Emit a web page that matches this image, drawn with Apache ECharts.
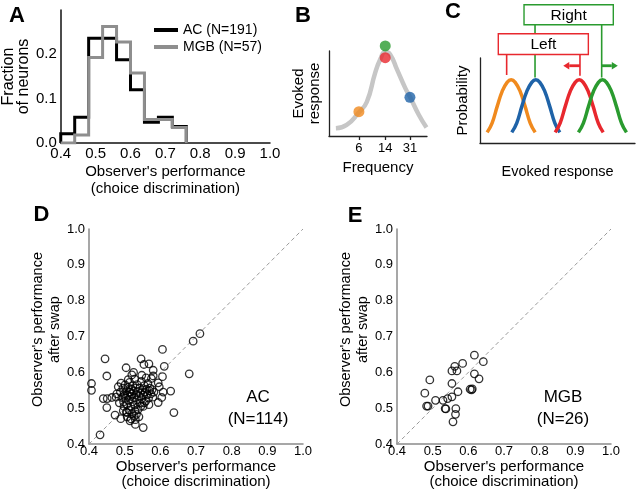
<!DOCTYPE html>
<html>
<head>
<meta charset="utf-8">
<script src="https://cdn.jsdelivr.net/npm/echarts@6/dist/echarts.min.js"></script>
<style>
html,body{margin:0;padding:0;background:#fff;}
#chart{width:640px;height:491px;}
</style>
</head>
<body>
<div id="chart"></div>
<script>
// ---------- Panel A: histogram of observer's performance ----------
const histEdges = [0.40, 0.44, 0.48, 0.52, 0.56, 0.60, 0.64, 0.68, 0.72, 0.76];
const acFraction = [0.021, 0.058, 0.236, 0.236, 0.188, 0.120, 0.047, 0.058, 0.037];
const mgbFraction = [0.000, 0.018, 0.193, 0.263, 0.228, 0.158, 0.053, 0.053, 0.035];
const histSeriesNames = ['AC (N=191)', 'MGB (N=57)'];
const perfTicks = [0.4, 0.5, 0.6, 0.7, 0.8, 0.9, 1.0];

// ---------- Panel B: tuning curve ----------
const tuningFreq = [2.86, 4.05, 5.89, 7.73, 10.1, 11.9, 14.0, 16.4, 20.5, 26.8, 31.5, 41.2, 52.8];
const tuningResp = [0.09, 0.13, 0.27, 0.40, 0.74, 0.90, 0.99, 0.96, 0.78, 0.56, 0.45, 0.25, 0.10];
const stimFreq = [6, 14, 14, 31];
const stimResp = [0.286, 0.921, 1.059, 0.455];
const freqTicks = [6, 14, 31];

// ---------- Panel C: response distributions ----------
const cCenters = [20.1, 36.0, 64.0, 79.0];          // orange, blue, red, green
const cProfileOffset = [-15.5, -12.3, -9.0, -5.8, -2.6, 0, 2.6, 5.8, 9.0, 12.3, 15.5];
const cProfileHeight = [0.125, 0.235, 0.431, 0.608, 0.714, 0.745, 0.714, 0.608, 0.431, 0.235, 0.125];
const cBoxLabels = ['Right', 'Left'];
const cBoxes = [[28.4, 1.391, 86.0, 1.627], [11.8, 1.042, 69.9, 1.285]];
const cGreenLinks = [[35.5, 1.391, 0.77], [78.5, 1.391, 0.77]];
const cRedLinks = [[17.2, 1.042, 0.80], [64.5, 1.042, 0.79]];
const cRedArrow = [[64.5, 53.7, 0.909]];
const cGreenArrow = [[78.5, 88.9, 0.909]];

// ---------- Panel D: AC, performance vs performance after swap ----------
const acSwap = [
  [0.711,0.708],[0.692,0.687],[0.681,0.596],[0.606,0.664],[0.546,0.638],[0.445,0.638],[0.554,0.622],[0.568,0.624],[0.504,0.613],[0.580,0.606],
  [0.611,0.617],[0.450,0.590],[0.606,0.588],[0.580,0.590],[0.407,0.569],[0.407,0.550],[0.629,0.548],[0.608,0.545],[0.594,0.516],[0.604,0.530],
  [0.638,0.488],[0.552,0.446],[0.431,0.426],[0.440,0.527],[0.451,0.527],[0.464,0.530],[0.476,0.531],[0.450,0.502],[0.473,0.481],[0.489,0.471],
  [0.515,0.465],[0.530,0.468],[0.506,0.488],[0.529,0.493],[0.594,0.571],[0.597,0.560],
  [0.488,0.545],[0.492,0.530],[0.495,0.556],[0.497,0.518],[0.499,0.541],[0.501,0.565],[0.503,0.528],[0.505,0.549],[0.506,0.511],[0.508,0.536],
  [0.510,0.558],[0.511,0.522],[0.513,0.545],[0.514,0.572],[0.516,0.533],[0.517,0.505],[0.519,0.553],[0.520,0.540],[0.522,0.518],[0.523,0.563],
  [0.525,0.548],[0.526,0.530],[0.528,0.581],[0.529,0.509],[0.531,0.556],[0.532,0.538],[0.534,0.523],[0.535,0.566],[0.537,0.547],[0.538,0.497],
  [0.540,0.533],[0.542,0.556],[0.543,0.514],[0.545,0.542],[0.547,0.575],[0.548,0.527],[0.550,0.551],[0.552,0.505],[0.553,0.537],[0.555,0.563],
  [0.557,0.545],[0.559,0.520],[0.561,0.553],[0.563,0.538],[0.565,0.569],[0.567,0.528],[0.569,0.549],[0.571,0.556],[0.573,0.540],[0.575,0.583],
  [0.577,0.552],[0.579,0.531],[0.560,0.585],[0.548,0.592],[0.520,0.593],[0.510,0.580],[0.498,0.505],[0.505,0.490],[0.512,0.495],[0.520,0.485],
  [0.527,0.478],[0.533,0.483],[0.540,0.476],[0.518,0.470],[0.507,0.476],[0.496,0.493],[0.485,0.515],[0.482,0.560],[0.478,0.540],[0.490,0.570],
  [0.525,0.600],[0.545,0.505],[0.555,0.515],[0.568,0.510],[0.582,0.545],[0.530,0.455],[0.515,0.545],[0.500,0.535]
];

// ---------- Panel E: MGB ----------
const mgbSwap = [
  [0.617,0.648],[0.642,0.630],[0.584,0.625],[0.562,0.617],[0.554,0.604],[0.568,0.604],[0.617,0.596],[0.630,0.582],[0.492,0.579],[0.554,0.569],
  [0.571,0.546],[0.478,0.542],[0.554,0.532],[0.542,0.527],[0.529,0.522],[0.508,0.522],[0.605,0.553],[0.609,0.551],[0.611,0.554],[0.483,0.506],
  [0.487,0.506],[0.535,0.499],[0.537,0.498],[0.565,0.499],[0.564,0.483],[0.557,0.462]
];
const diagonal = [[0.4, 0.4], [1.0, 1.0]];

// ---------- styling ----------
const FONT = "'Liberation Sans', Arial, Helvetica, sans-serif";
const COL = {orange:'#f08a1e', blue:'#1f63a8', red:'#e8282e', green:'#2a9b2f', grey:'#8e8e8e', light:'#c6c6c6'};
const stimColors = [COL.orange, COL.red, COL.green, COL.blue];
const curveColors = [COL.orange, COL.blue, COL.red, COL.green];

function stepPoints(edges, vals) {
  const pts = [[edges[0], 0]];
  vals.forEach((v, i) => { pts.push([edges[i], v]); pts.push([edges[i + 1], v]); });
  pts.push([edges[edges.length - 1], 0]);
  return pts;
}
const log10 = Math.log10;

const chart = echarts.init(document.getElementById('chart'), null, {renderer: 'canvas'});

const txt = (size, extra) => Object.assign({color:'#000', fontFamily: FONT, fontSize: size}, extra || {});

function perfAxis(gridIndex, isX, opts) {
  return Object.assign({
    gridIndex, type:'value', min:0.4, max:1.0, interval:0.1,
    axisLine:{show:true, onZero:false, lineStyle:{color:'#8a8a8a', width:1.5}},
    axisTick:{show:false}, splitLine:{show:false},
    axisLabel: Object.assign(txt(13), {margin: isX ? 1 : 4, formatter: v => v.toFixed(1)}),
    nameLocation:'middle',
  }, opts);
}

const option = {
  animation:false,
  backgroundColor:'#fff',
  textStyle:{fontFamily: FONT},
  grid:[
    {left:57, top:10, width:213, height:133},
    {left:329, top:51, width:98, height:85},
    {left:480, top:58, width:155, height:85},
    {left:89, top:229, width:214, height:216},
    {left:397, top:229, width:214, height:216}
  ],
  legend:{
    data: histSeriesNames, left:149, top:18, orient:'vertical', icon:'rect',
    itemWidth:24, itemHeight:4, itemGap:3, selectedMode:false,
    textStyle: txt(14, {lineHeight:14})
  },
  xAxis:[
    {gridIndex:0, type:'value', min:0.4, max:1.0, interval:0.1,
     axisLine:{onZero:false, lineStyle:{color:'#111', width:1.5}}, axisTick:{show:false}, splitLine:{show:false},
     axisLabel: Object.assign(txt(15), {margin:3, formatter: v => v.toFixed(1)}),
     name:"Observer's performance\n(choice discrimination)", nameLocation:'middle', nameGap:20,
     nameTextStyle: txt(15, {lineHeight:17})},
    {gridIndex:1, type:'value', min:0.36, max:1.73,
     axisLine:{onZero:false, lineStyle:{color:'#222', width:1.3}},
     axisTick:{show:true, length:4, customValues: freqTicks.map(log10), lineStyle:{color:'#222', width:1.3}},
     splitLine:{show:false},
     axisLabel: Object.assign(txt(13), {margin:6, customValues: freqTicks.map(log10), formatter: v => String(Math.round(Math.pow(10, v)))}),
     name:'Frequency', nameLocation:'middle', nameGap:24, nameTextStyle: txt(15)},
    {gridIndex:2, type:'value', min:0, max:100,
     axisLine:{onZero:false, lineStyle:{color:'#222', width:1.3}}, axisTick:{show:false}, axisLabel:{show:false}, splitLine:{show:false},
     name:'Evoked response', nameLocation:'middle', nameGap:21, nameTextStyle: txt(14.5)},
    perfAxis(3, true, {name:"Observer's performance\n(choice discrimination)", nameGap:12, nameTextStyle: txt(15, {lineHeight:15.5})}),
    perfAxis(4, true, {name:"Observer's performance\n(choice discrimination)", nameGap:12, nameTextStyle: txt(15, {lineHeight:15.5})})
  ],
  yAxis:[
    {gridIndex:0, type:'value', min:0, max:0.3, interval:0.1,
     axisLine:{show:true, onZero:false, lineStyle:{color:'#111', width:1.5}}, axisTick:{show:false}, splitLine:{show:false},
     axisLabel: Object.assign(txt(15), {margin:4, formatter: v => (v > 0.25 ? '' : v.toFixed(1))}),
     name:'Fraction\nof neurons', nameLocation:'middle', nameGap:29, nameTextStyle: txt(16, {lineHeight:15})},
    {gridIndex:1, type:'value', min:0, max:1,
     axisLine:{show:true, onZero:false, lineStyle:{color:'#222', width:1.3}}, axisTick:{show:false}, axisLabel:{show:false}, splitLine:{show:false},
     name:'Evoked\nresponse', nameLocation:'middle', nameGap:6, nameTextStyle: txt(15, {lineHeight:16})},
    {gridIndex:2, type:'value', min:0, max:1,
     axisLine:{show:true, onZero:false, lineStyle:{color:'#222', width:1.3}}, axisTick:{show:false}, axisLabel:{show:false}, splitLine:{show:false},
     name:'Probability', nameLocation:'middle', nameGap:10, nameTextStyle: txt(15)},
    perfAxis(3, false, {name:"Observer's performance\nafter swap", nameGap:23, nameTextStyle: txt(14.5, {lineHeight:16.5, padding:[0,0,0,14]})}),
    perfAxis(4, false, {name:"Observer's performance\nafter swap", nameGap:24, nameTextStyle: txt(14.5, {lineHeight:16.5, padding:[0,0,0,14]})})
  ],
  series:[
    // A
    {name: histSeriesNames[0], type:'line', xAxisIndex:0, yAxisIndex:0, data: stepPoints(histEdges, acFraction),
     symbol:'none', itemStyle:{color:'#000'}, lineStyle:{color:'#000', width:3, join:'miter', cap:'butt'}, z:3},
    {name: histSeriesNames[1], type:'line', xAxisIndex:0, yAxisIndex:0, data: stepPoints(histEdges, mgbFraction),
     symbol:'none', itemStyle:{color:COL.grey}, lineStyle:{color:COL.grey, width:3, join:'miter', cap:'butt'}, z:4},
    // B
    {type:'line', xAxisIndex:1, yAxisIndex:1, smooth:0.5, symbol:'none', clip:false,
     data: tuningFreq.map((f, i) => [log10(f), tuningResp[i]]),
     lineStyle:{color:COL.light, width:4.5}, z:2},
    {type:'scatter', xAxisIndex:1, yAxisIndex:1, clip:false, symbolSize:11,
     data: stimFreq.map((f, i) => ({value:[log10(f), stimResp[i]], itemStyle:{color: stimColors[i]}})), z:5},
    // C curves
    ...cCenters.map((c, k) => ({
      type:'line', xAxisIndex:2, yAxisIndex:2, smooth:0.45, symbol:'none', clip:false,
      data: cProfileOffset.map((o, j) => [c + o, cProfileHeight[j]]),
      lineStyle:{color: curveColors[k], width:3.5}, z:3 + k * 0.01
    })),
    // C green links (under boxes)
    {type:'custom', xAxisIndex:2, yAxisIndex:2, clip:false, z:4, data: cGreenLinks,
     renderItem:(p, api) => { const a = api.coord([api.value(0), api.value(1)]); const b = api.coord([api.value(0), api.value(2)]);
       return {type:'line', shape:{x1:a[0], y1:a[1], x2:b[0], y2:b[1]}, style:{stroke:COL.green, lineWidth:1.6}}; }},
    // C boxes
    {type:'custom', xAxisIndex:2, yAxisIndex:2, clip:false, z:5, data: cBoxes,
     renderItem:(p, api) => {
       const a = api.coord([api.value(0), api.value(3)]); const b = api.coord([api.value(2), api.value(1)]);
       const color = p.dataIndex === 0 ? COL.green : COL.red;
       return {type:'group', children:[
         {type:'rect', shape:{x:a[0], y:a[1], width:b[0]-a[0], height:b[1]-a[1]}, style:{fill:'#fff', stroke:color, lineWidth:1.4}},
         {type:'text', style:{text: cBoxLabels[p.dataIndex], x:(a[0]+b[0])/2, y:(a[1]+b[1])/2 + 1, align:'center', verticalAlign:'middle',
           fill:'#000', font:'15.5px ' + FONT}}
       ]}; }},
    // C red links
    {type:'custom', xAxisIndex:2, yAxisIndex:2, clip:false, z:6, data: cRedLinks,
     renderItem:(p, api) => { const a = api.coord([api.value(0), api.value(1)]); const b = api.coord([api.value(0), api.value(2)]);
       return {type:'line', shape:{x1:a[0], y1:a[1], x2:b[0], y2:b[1]}, style:{stroke:COL.red, lineWidth:1.6}}; }},
    // C arrows
    ...[[cRedArrow, COL.red], [cGreenArrow, COL.green]].map(([arr, color]) => ({
      type:'custom', xAxisIndex:2, yAxisIndex:2, clip:false, z:6, data: arr,
      renderItem:(p, api) => {
        const s = api.coord([api.value(0), api.value(2)]); const t = api.coord([api.value(1), api.value(2)]);
        const dir = Math.sign(t[0] - s[0]); const hl = 6, hh = 3.8;
        return {type:'group', children:[
          {type:'line', shape:{x1:s[0], y1:s[1], x2:t[0] - dir*hl, y2:t[1]}, style:{stroke:color, lineWidth:2.8}},
          {type:'polygon', shape:{points:[[t[0], t[1]], [t[0]-dir*hl, t[1]-hh], [t[0]-dir*hl, t[1]+hh]]}, style:{fill:color}}
        ]}; }
    })),
    // D
    {type:'line', xAxisIndex:3, yAxisIndex:3, data: diagonal, symbol:'none', lineStyle:{color:'#9a9a9a', width:1, type:[4,3]}, z:1},
    {type:'scatter', xAxisIndex:3, yAxisIndex:3, data: acSwap, symbol:'circle', symbolSize:7.5,
     itemStyle:{color:'rgba(0,0,0,0)', borderColor:'#000', borderWidth:1.3}, z:3},
    // E
    {type:'line', xAxisIndex:4, yAxisIndex:4, data: diagonal, symbol:'none', lineStyle:{color:'#9a9a9a', width:1, type:[4,3]}, z:1},
    {type:'scatter', xAxisIndex:4, yAxisIndex:4, data: mgbSwap, symbol:'circle', symbolSize:7.5,
     itemStyle:{color:'rgba(0,0,0,0)', borderColor:'#000', borderWidth:1.3}, z:3}
  ],
  graphic:[
    ...[['A',17,15.5],['B',303,15.5],['C',453,11.5],['D',41.5,214.5],['E',355,215.5]].map(([t,x,y]) => ({
      type:'text', x, y, style:{text:t, font:'bold 22px ' + FONT, fill:'#000', align:'center', verticalAlign:'middle', textAlign:'center', textVerticalAlign:'middle'}
    })),
    ...[['AC',258,397],['(N=114)',258,419],['MGB',563,397],['(N=26)',563,419]].map(([t,x,y]) => ({
      type:'text', x, y, style:{text:t, font:'17px ' + FONT, fill:'#000', align:'center', verticalAlign:'middle', textAlign:'center', textVerticalAlign:'middle'}
    }))
  ]
};
chart.setOption(option);
</script>
</body>
</html>
